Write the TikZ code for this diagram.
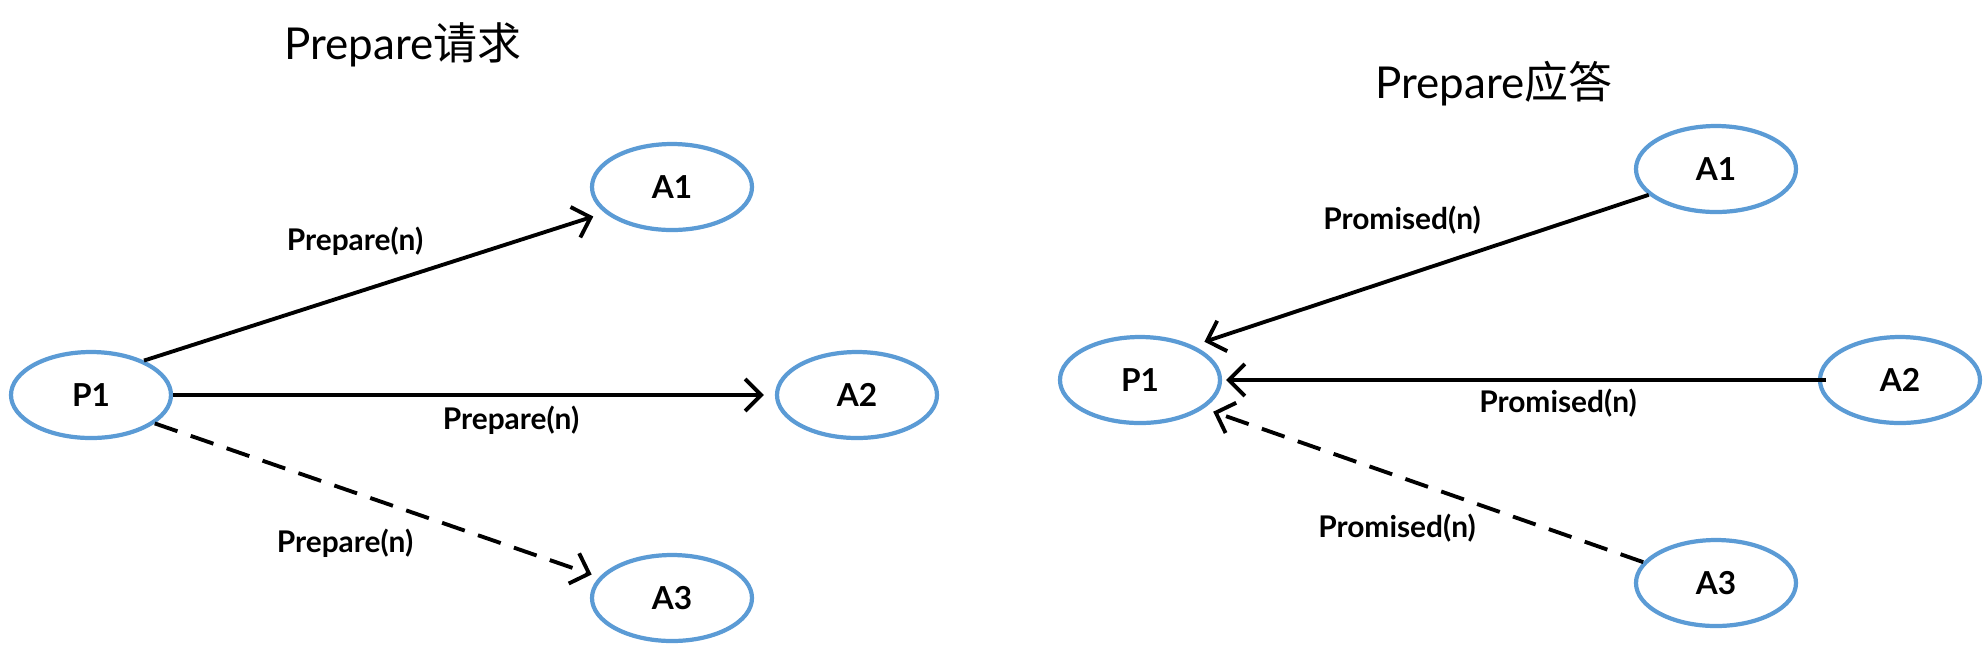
\documentclass[tikz,border=0pt]{standalone}
\usepackage{fontspec}
\setmainfont{Lato}
\newfontfamily\cjk{Noto Sans CJK SC}
\usetikzlibrary{shapes.geometric,arrows.meta}
\definecolor{nodoblu}{RGB}{91,155,213}
\begin{document}
\begin{tikzpicture}[>={Straight Barb[length=1.6mm,width=3.2mm]}]
    % Definizione stili
    \tikzset{
        agente/.style={ellipse, draw=nodoblu, line width=1.2pt,
                      minimum width=1.6cm, minimum height=0.86cm,
                      inner sep=0pt, font=\fontsize{9}{10}\selectfont\bfseries},
        etichetta/.style={font=\fontsize{8.5}{10}\selectfont\bfseries, inner sep=1pt},
        titolo/.style={font=\fontsize{12.5}{15}\selectfont},
        freccia/.style={->, line width=1.1pt},
        tratteggio/.style={dash pattern=on 2.4mm off 1.4mm}
    }
    \useasboundingbox (0,0) rectangle (19.88,-6.54);

    % Richiesta Prepare
    \node[titolo] (tit1) at (4.03,-0.45) {Prepare{\cjk 请求}};
    \node[agente] (p1) at (0.91,-3.95) {P1};
    \node[agente] (a1) at (6.72,-1.87) {A1};
    \node[agente] (a2) at (8.57,-3.95) {A2};
    \node[agente] (a3) at (6.72,-5.98) {A3};

    \draw[freccia, shorten >=1.2mm] (p1.33) -- (a1.201);
    \draw[freccia, shorten >=1.1mm] (p1.east) -- (a2.west);
    \draw[freccia, tratteggio, shorten >=0.8mm] (p1.-24) -- (a3.164);

    \node[etichetta] (e1) at (3.55,-2.41) {Prepare(n)};
    \node[etichetta] (e2) at (5.11,-4.20) {Prepare(n)};
    \node[etichetta] (e3) at (3.45,-5.43) {Prepare(n)};

    % Risposta Prepare
    \node[titolo] (tit2) at (14.94,-0.84) {Prepare{\cjk 应答}};
    \node[agente] (p1r) at (11.40,-3.80) {P1};
    \node[agente] (a1r) at (17.16,-1.69) {A1};
    \node[agente] (a2r) at (19.00,-3.80) {A2};
    \node[agente] (a3r) at (17.16,-5.83) {A3};

    \draw[freccia, shorten >=1.2mm] (a1r.201) -- (p1r.33);
    \draw[freccia, shorten <=-0.8mm, shorten >=0.4mm] (a2r.west) -- (p1r.east);
    \draw[freccia, tratteggio, shorten >=1mm] (a3r.164) -- (p1r.-24);

    \node[etichetta] (e4) at (14.02,-2.20) {Promised(n)};
    \node[etichetta] (e5) at (15.58,-4.03) {Promised(n)};
    \node[etichetta] (e6) at (13.97,-5.28) {Promised(n)};
\end{tikzpicture}
\end{document}
